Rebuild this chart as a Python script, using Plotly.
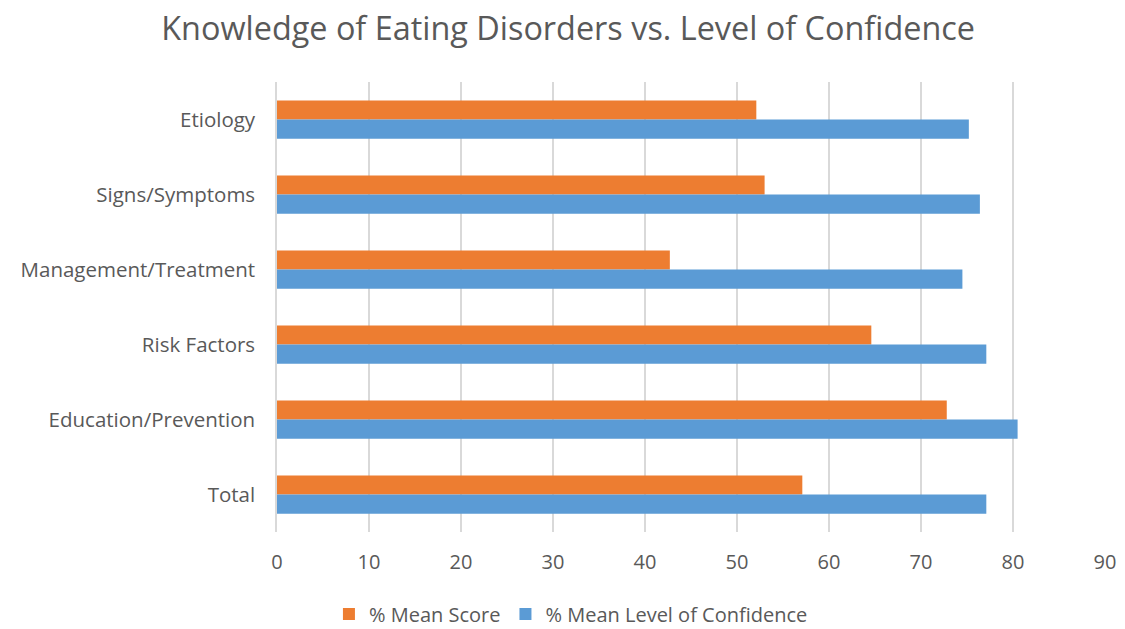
import plotly.graph_objects as go

categories = ["Etiology", "Signs/Symptoms", "Management/Treatment",
              "Risk Factors", "Education/Prevention", "Total"]
mean_score = [52.1, 53.0, 42.7, 64.6, 72.8, 57.1]
mean_confidence = [75.2, 76.4, 74.5, 77.1, 80.5, 77.1]
x_ticks = [0, 10, 20, 30, 40, 50, 60, 70, 80, 90]

text_color = "#595959"
font_family = "Open Sans, Liberation Sans, sans-serif"

fig = go.Figure()
fig.add_trace(go.Bar(
    y=categories, x=mean_score, orientation="h",
    name="% Mean Score", marker=dict(color="#ED7D31", line=dict(width=0)),
))
fig.add_trace(go.Bar(
    y=categories, x=mean_confidence, orientation="h",
    name="% Mean Level of Confidence", marker=dict(color="#5B9BD5", line=dict(width=0)),
))

fig.update_layout(
    width=1125, height=629,
    margin=dict(l=277, r=20, t=82, b=97, autoexpand=False),
    paper_bgcolor="white", plot_bgcolor="white",
    barmode="group", bargap=0.49, bargroupgap=0,
    font=dict(family=font_family, color=text_color),
    title=dict(text="Knowledge of Eating Disorders vs. Level of Confidence",
               x=0.505, xanchor="center", y=0.955, yanchor="middle",
               font=dict(size=32.4, color=text_color, family=font_family)),
    xaxis=dict(range=[0, 90], tickvals=x_ticks, showgrid=True,
               gridcolor="#D9D9D9", gridwidth=1.5, zeroline=False,
               showline=False, ticks="", ticklabelstandoff=16,
               tickfont=dict(size=20, color=text_color)),
    yaxis=dict(autorange="reversed", showgrid=False, showline=True,
               linecolor="#D9D9D9", linewidth=1.5, ticks="",
               ticklabelstandoff=16,
               tickfont=dict(size=20.5, color=text_color)),
    legend=dict(orientation="h", x=0.355, xanchor="center", y=-0.182,
                yanchor="middle", font=dict(size=20, color=text_color),
                traceorder="normal", itemwidth=30),
    showlegend=True,
)

fig.write_html("out.html")
